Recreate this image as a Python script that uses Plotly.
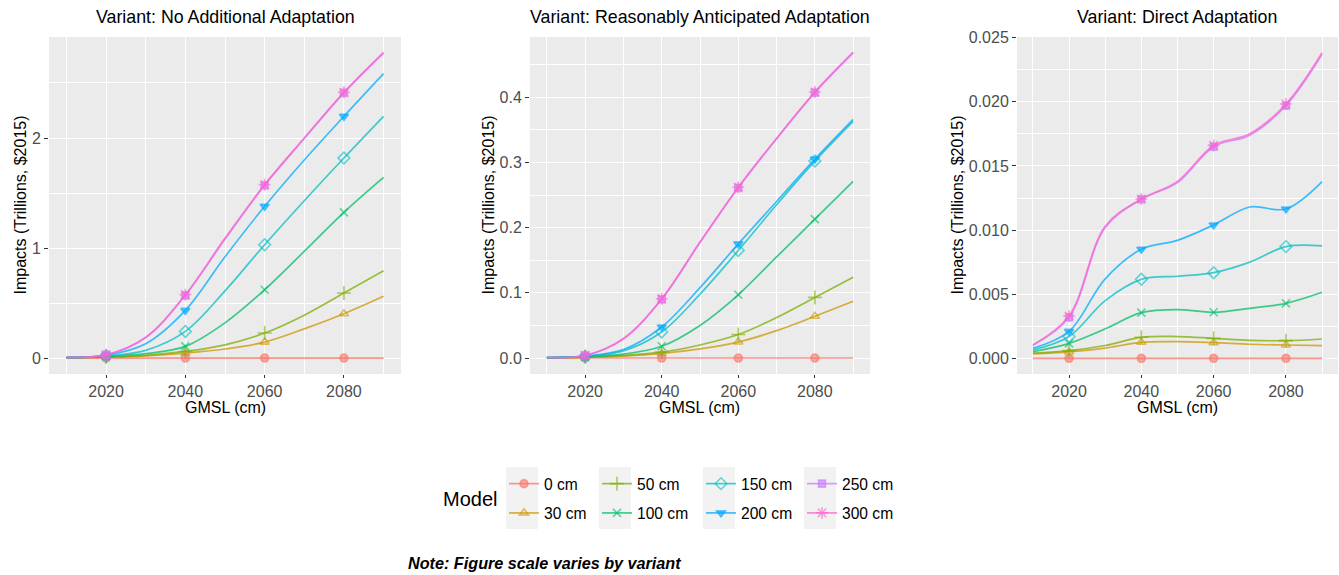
import plotly.graph_objects as go

# ---- data -------------------------------------------------------------
years = [2010, 2020, 2030, 2040, 2050, 2060, 2070, 2080, 2090]
marker_years = [2020, 2040, 2060, 2080]

models = ["0 cm", "30 cm", "50 cm", "100 cm", "150 cm", "200 cm", "250 cm", "300 cm"]

# Variant: No Additional Adaptation (trillions, $2015)
naa_0 = [0, 0, 0, 0, 0, 0, 0, 0, 0]
naa_30 = [0.002, 0.008, 0.02, 0.045, 0.082, 0.145, 0.265, 0.403, 0.561]
naa_50 = [0.003, 0.010, 0.025, 0.060, 0.120, 0.227, 0.390, 0.591, 0.794]
naa_100 = [0.004, 0.015, 0.040, 0.106, 0.320, 0.621, 0.970, 1.324, 1.642]
naa_150 = [0.005, 0.020, 0.070, 0.242, 0.610, 1.030, 1.430, 1.818, 2.197]
naa_200 = [0.006, 0.025, 0.130, 0.433, 0.920, 1.379, 1.800, 2.197, 2.585]
naa_250 = [0.007, 0.029, 0.185, 0.570, 1.080, 1.570, 1.995, 2.410, 2.772]
naa_300 = [0.007, 0.030, 0.190, 0.576, 1.090, 1.576, 2.000, 2.415, 2.779]

# Variant: Reasonably Anticipated Adaptation
raa_0 = [0, 0, 0, 0, 0, 0, 0, 0, 0]
raa_30 = [0.0003, 0.001, 0.003, 0.007, 0.014, 0.0245, 0.042, 0.064, 0.087]
raa_50 = [0.0004, 0.0015, 0.004, 0.009, 0.020, 0.036, 0.062, 0.093, 0.124]
raa_100 = [0.0005, 0.002, 0.006, 0.018, 0.050, 0.097, 0.155, 0.213, 0.271]
raa_150 = [0.0006, 0.0025, 0.011, 0.040, 0.098, 0.165, 0.235, 0.302, 0.363]
raa_200 = [0.0007, 0.003, 0.013, 0.0476, 0.108, 0.175, 0.240, 0.305, 0.366]
raa_250 = [0.0008, 0.0039, 0.029, 0.090, 0.177, 0.261, 0.336, 0.407, 0.468]
raa_300 = [0.0008, 0.004, 0.030, 0.091, 0.178, 0.262, 0.337, 0.408, 0.469]

# Variant: Direct Adaptation
da_0 = [0, 0, 0, 0, 0, 0, 0, 0, 0]
da_30 = [0.00034, 0.0005, 0.0008, 0.00125, 0.0013, 0.00122, 0.0011, 0.00104, 0.00099]
da_50 = [0.0004, 0.0006, 0.0010, 0.00164, 0.0017, 0.00156, 0.0014, 0.00138, 0.00151]
da_100 = [0.00052, 0.00117, 0.0023, 0.00356, 0.0038, 0.00359, 0.0039, 0.00429, 0.00515]
da_150 = [0.00065, 0.0017, 0.0045, 0.00616, 0.0064, 0.00668, 0.0075, 0.00871, 0.00876]
da_200 = [0.00078, 0.0021, 0.0062, 0.0085, 0.0092, 0.0104, 0.0118, 0.01164, 0.01377]
da_250 = [0.00102, 0.0032, 0.0102, 0.0124, 0.0137, 0.0165, 0.0174, 0.0197, 0.0237]
da_300 = [0.00104, 0.0033, 0.0103, 0.01242, 0.0138, 0.0166, 0.0175, 0.01983, 0.02383]

variants = [
    ("Variant: No Additional Adaptation",
     [naa_0, naa_30, naa_50, naa_100, naa_150, naa_200, naa_250, naa_300]),
    ("Variant: Reasonably Anticipated Adaptation",
     [raa_0, raa_30, raa_50, raa_100, raa_150, raa_200, raa_250, raa_300]),
    ("Variant: Direct Adaptation",
     [da_0, da_30, da_50, da_100, da_150, da_200, da_250, da_300]),
]

# ---- styling ----------------------------------------------------------
W, H = 1339, 575
FONT = "Liberation Sans, Arial, sans-serif"
hue = ["#F8766D", "#CD9600", "#7CAE00", "#00BE67",
       "#00BFC4", "#00A9FF", "#C77CFF", "#FF61CC"]
symbols = ["circle", "triangle-up-open", "cross-thin-open", "x-thin-open",
           "diamond-open", "triangle-down", "square", "asterisk-open"]
sizes = [8, 8, 10, 8, 9, 8, 7, 10]


def rgba(hex_color, a):
    h = hex_color.lstrip("#")
    r, g, b = int(h[0:2], 16), int(h[2:4], 16), int(h[4:6], 16)
    return f"rgba({r},{g},{b},{a})"


def px_x(p):
    return p / W


def px_y(p):
    return 1 - p / H


# panel pixel boxes (left, right)
panels_px = [(49, 401), (530, 870), (1017, 1338)]
panel_top, panel_bottom = 37, 374
y_ranges = [[-0.145, 2.918], [-0.0245, 0.4923], [-0.00122, 0.02505]]
y_dticks = [1, 0.1, 0.005]
y_formats = ["d", ".1f", ".3f"]
title_cx = [225, 700, 1177]
ytitle_cx = [20, 488, 957]

fig = go.Figure()

for p, (title, series) in enumerate(variants):
    ax = "" if p == 0 else str(p + 1)
    for m, vals in enumerate(series):
        fig.add_trace(go.Scatter(
            x=years, y=vals, mode="lines",
            line=dict(color=rgba(hue[m], 0.75), width=1.7, shape="spline", smoothing=1.0),
            xaxis="x" + ax, yaxis="y" + ax, showlegend=False, hoverinfo="skip",
        ))
        mx = [yr for yr in years if yr in marker_years]
        my = [v for yr, v in zip(years, vals) if yr in marker_years]
        fig.add_trace(go.Scatter(
            x=mx, y=my, mode="markers",
            marker=dict(symbol=symbols[m], size=sizes[m], color=rgba(hue[m], 0.6),
                        line=dict(color=rgba(hue[m], 0.6), width=1.6)),
            xaxis="x" + ax, yaxis="y" + ax, showlegend=False,
        ))

    l, r = panels_px[p]
    fig.update_layout({
        "xaxis" + ax: dict(
            domain=[px_x(l), px_x(r)], range=[2005.6, 2094.4], automargin=False,
            anchor="y" + ax, tickmode="linear", tick0=2020, dtick=20,
            ticks="outside", ticklen=3, tickwidth=1, tickcolor="#333333",
            tickfont=dict(family=FONT, size=16, color="#4D4D4D"),
            showgrid=True, gridcolor="white", gridwidth=1.3, zeroline=False, showline=False,
            minor=dict(tick0=2010, dtick=10, showgrid=True, gridcolor="white", gridwidth=0.6),
        ),
        "yaxis" + ax: dict(
            domain=[px_y(panel_bottom), px_y(panel_top)], range=y_ranges[p], automargin=False,
            anchor="x" + ax, tickmode="linear", tick0=0, dtick=y_dticks[p],
            tickformat=y_formats[p],
            ticks="outside", ticklen=4, tickwidth=1, tickcolor="#333333",
            tickfont=dict(family=FONT, size=16, color="#4D4D4D"),
            showgrid=True, gridcolor="white", gridwidth=1.3, zeroline=False, showline=False,
            minor=dict(tick0=0, dtick=y_dticks[p] / 2, showgrid=True, gridcolor="white", gridwidth=0.6),
        ),
    })

    fig.add_annotation(text=title, x=px_x(title_cx[p]), y=px_y(17), xref="paper", yref="paper",
                       showarrow=False, xanchor="center", yanchor="middle",
                       font=dict(family=FONT, size=17.8, color="black"))
    fig.add_annotation(text="GMSL (cm)", x=px_x(title_cx[p]), y=px_y(407), xref="paper", yref="paper",
                       showarrow=False, xanchor="center", yanchor="middle",
                       font=dict(family=FONT, size=16, color="black"))
    fig.add_annotation(text="Impacts (Trillions, $2015)", x=px_x(ytitle_cx[p]),
                       y=px_y((panel_top + panel_bottom) / 2), xref="paper", yref="paper",
                       showarrow=False, textangle=-90, xanchor="center", yanchor="middle",
                       font=dict(family=FONT, size=16, color="black"))

# ---- legend: four columns of two entries ------------------------------
legend_names = ["legend", "legend2", "legend3", "legend4"]
col_key_left = [506, 599, 703, 804]
for m, name in enumerate(models):
    col = m // 2
    fig.add_trace(go.Scatter(
        x=[None], y=[None], mode="lines+markers", name=name,
        line=dict(color=rgba(hue[m], 0.75), width=1.7),
        marker=dict(symbol=symbols[m], size=sizes[m], color=rgba(hue[m], 0.6),
                    line=dict(color=rgba(hue[m], 0.6), width=1.6)),
        legend=legend_names[col], legendgroup=name, showlegend=True,
    ))

legend_top = 467
for c, ln in enumerate(legend_names):
    fig.update_layout({ln: dict(
        x=px_x(col_key_left[c] - 2), y=px_y(legend_top), xanchor="left", yanchor="top",
        orientation="v", bgcolor="rgba(0,0,0,0)", borderwidth=0,
        font=dict(family=FONT, size=15.6, color="black"), tracegroupgap=6,
        itemwidth=30,
    )})
    fig.add_shape(type="rect", xref="paper", yref="paper",
                  x0=px_x(col_key_left[c]), x1=px_x(col_key_left[c] + 32),
                  y0=px_y(529), y1=px_y(467), fillcolor="#F2F2F2", line=dict(width=0),
                  layer="below")

fig.add_annotation(text="Model", x=px_x(499), y=px_y(499), xref="paper", yref="paper",
                   showarrow=False, xanchor="right", yanchor="middle",
                   font=dict(family=FONT, size=20, color="black"))
fig.add_annotation(text="<b><i>Note: Figure scale varies by variant</i></b>",
                   x=px_x(406), y=px_y(563), xref="paper", yref="paper",
                   showarrow=False, xanchor="left", yanchor="middle",
                   font=dict(family=FONT, size=16.2, color="black"))

fig.update_layout(
    width=W, height=H, margin=dict(l=0, r=0, t=0, b=0, autoexpand=False),
    paper_bgcolor="white", plot_bgcolor="#EBEBEB",
    font=dict(family=FONT),
)

fig.write_html("out.html")
